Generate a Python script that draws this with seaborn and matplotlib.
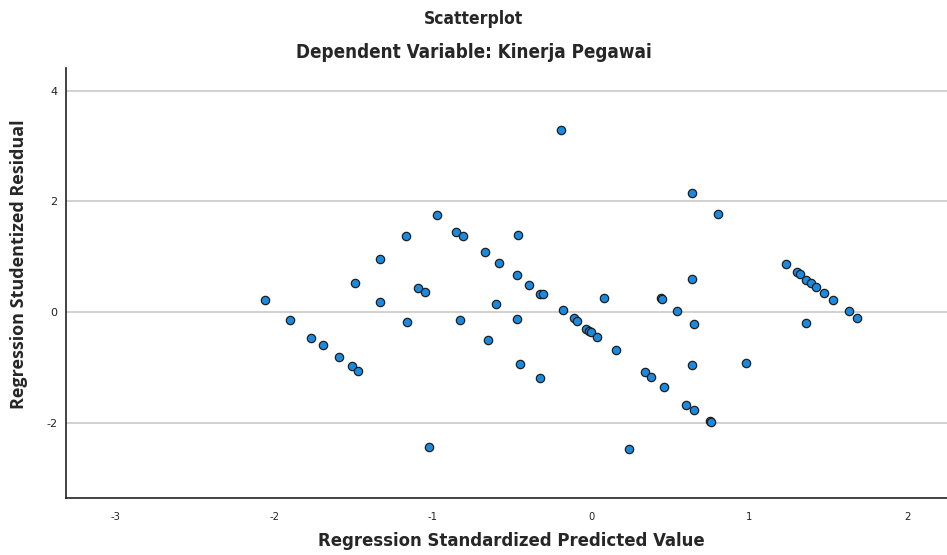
import matplotlib
matplotlib.use("Agg")
import matplotlib.pyplot as plt
import seaborn as sns
import pandas as pd

# nilai
predicted = [-2.06, -1.90, -1.77, -1.69, -1.59, -1.51, -1.47, -1.49, -1.33, -1.33,
             -1.17, -1.16, -1.09, -1.05, -1.02, -0.97, -0.85, -0.81, -0.83, -0.67,
             -0.65, -0.60, -0.58, -0.47, -0.46, -0.47, -0.45, -0.39, -0.32, -0.30,
             -0.32, -0.19, -0.18, -0.11, -0.09, -0.03, -0.01, 0.00, 0.04, 0.08,
             0.16, 0.24, 0.34, 0.38, 0.44, 0.45, 0.46, 0.54, 0.60, 0.64,
             0.64, 0.65, 0.64, 0.65, 0.75, 0.76, 0.80, 0.98, 1.23, 1.30,
             1.32, 1.36, 1.39, 1.42, 1.47, 1.53, 1.36, 1.63, 1.68]
residual = [0.22, -0.15, -0.46, -0.60, -0.82, -0.97, -1.07, 0.52, 0.95, 0.18,
            1.37, -0.18, 0.43, 0.36, -2.44, 1.75, 1.45, 1.37, -0.14, 1.09,
            -0.50, 0.15, 0.89, 0.67, 1.39, -0.13, -0.94, 0.48, 0.32, 0.32,
            -1.20, 3.29, 0.03, -0.11, -0.17, -0.31, -0.34, -0.36, -0.45, 0.25,
            -0.69, -2.48, -1.09, -1.18, 0.25, 0.24, -1.36, 0.02, -1.68, 2.16,
            0.59, -0.22, -0.96, -1.77, -1.96, -1.99, 1.78, -0.92, 0.87, 0.72,
            0.69, 0.58, 0.52, 0.46, 0.34, 0.22, -0.19, 0.01, -0.10]

x_ticks = [-3, -2, -1, 0, 1, 2]
y_ticks = [-2, 0, 2, 4]

df = pd.DataFrame({"pred": predicted, "resid": residual})

sns.set_style("white")
narrow = dict(family="DejaVu Sans", stretch="condensed", fontweight="bold")

fig = plt.figure(figsize=(9.47, 5.55), dpi=100)
ax = fig.add_axes([0.0697, 0.1027, 0.9303, 0.7748])

for yv in y_ticks:
    ax.axhline(yv, color="#cacaca", lw=1.2, zorder=0)

sns.scatterplot(data=df, x="pred", y="resid", ax=ax, s=36,
                color="#1a8ae0", edgecolor="#1e1e1e", linewidth=0.9, zorder=3)

ax.set_xlim(-3.314, 2.247)
ax.set_ylim(-3.36, 4.41)
ax.set_xticks(x_ticks)
ax.set_yticks(y_ticks)
ax.set_xticklabels([str(v) for v in x_ticks], family="DejaVu Sans", stretch="condensed",
                   fontsize=8, color="#222222")
ax.set_yticklabels([str(v) for v in y_ticks], fontsize=8, color="#222222")
ax.tick_params(axis="x", length=0, pad=10)
ax.tick_params(axis="y", length=0, pad=6)

for side in ["top", "right"]:
    ax.spines[side].set_visible(False)
for side in ["left", "bottom"]:
    ax.spines[side].set_color("#222222")
    ax.spines[side].set_linewidth(1.2)

ax.set_xlabel("")
ax.set_ylabel("")

fig.text(0.5, 0.966, "Scatterplot", ha="center", va="center", fontsize=12.5, **narrow)
fig.text(0.5, 0.906, "Dependent Variable: Kinerja Pegawai", ha="center", va="center",
         fontsize=13.5, **narrow)
fig.text(0.54, 0.025, "Regression Standardized Predicted Value", ha="center", va="center",
         fontsize=13.2, **narrow)
fig.text(0.02, 0.524, "Regression Studentized Residual", ha="center", va="center",
         rotation=90, fontsize=13, fontweight="bold", family=["Open Sans", "DejaVu Sans"])

fig.savefig("out.png", dpi=100)
